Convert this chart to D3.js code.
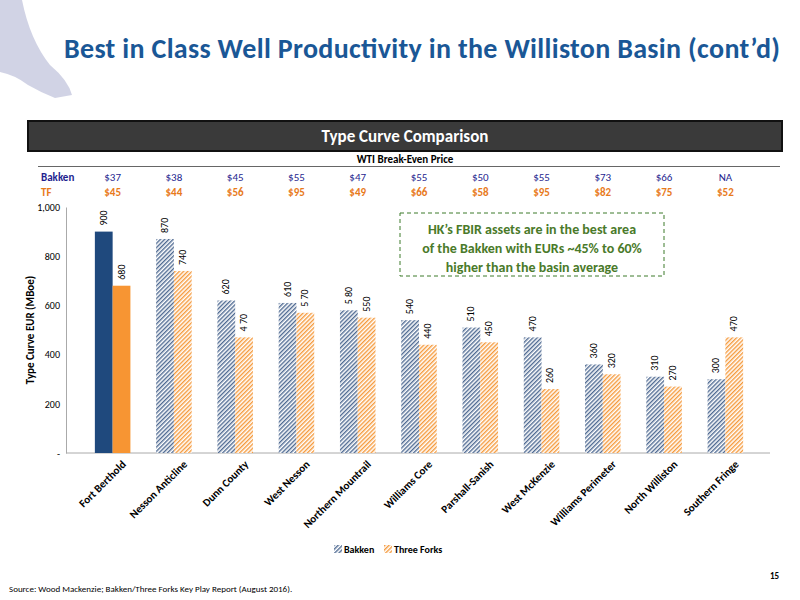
<!DOCTYPE html><html><head><meta charset="utf-8"><script src="https://d3js.org/d3.v7.min.js"></script>
<style>body{margin:0;background:#fff}text{font-family:Calibri,Carlito,"Open Sans",sans-serif}</style></head><body><svg id="c" width="800" height="600"></svg><script>
const categories=["Fort Berthold","Nesson Anticline","Dunn County","West Nesson","Northern Mountrail","Williams Core","Parshall-Sanish","West McKenzie","Williams Perimeter","North Williston","Southern Fringe"];
const bakken=[900,870,620,610,580,540,510,470,360,310,300];
const threeForks=[680,740,470,570,550,440,450,260,320,270,470];
const bakkenLabels=["900","870","620","610","5 80","540","510","470","360","310","300"];
const tfLabels=["680","740","4 70","5 70","550","440","450","260","320","270","470"];
const bakkenPrice=["$37","$38","$45","$55","$47","$55","$50","$55","$73","$66","NA"];
const tfPrice=["$45","$44","$56","$95","$49","$66","$58","$95","$82","$75","$52"];
const yTicks=[0,200,400,600,800,1000];
const svg=d3.select("#c");
const defs=svg.append("defs");
function pat(id,c){const p=defs.append("pattern").attr("id",id).attr("width",3).attr("height",3).attr("patternUnits","userSpaceOnUse").attr("patternTransform","rotate(45)");
p.append("rect").attr("width",3).attr("height",3).attr("fill","#fff");p.append("rect").attr("width",1.4).attr("height",3).attr("fill",c);}
pat("hb","#4f6a92");pat("ho","#f59a3c");
svg.append("path").attr("d","M0,0 L22,0 Q30,40 50,65 Q68,80 72,95 L55,98 Q40,92 28,85 Q15,75 0,72Z").attr("fill","#c9cbe0").attr("opacity",0.85);
svg.append("text").attr("x",64).attr("y",58).attr("font-size",28).attr("font-weight","bold").attr("fill","#1a5796").attr("textLength",716).text("Best in Class Well Productivity in the Williston Basin (cont’d)");
svg.append("rect").attr("x",28).attr("y",121).attr("width",754).attr("height",30).attr("fill","#3a3a3a").attr("stroke","#111").attr("stroke-width",2);
svg.append("text").attr("x",405).attr("y",142).attr("text-anchor","middle").attr("fill","#fff").attr("font-size",17).attr("font-weight","bold").text("Type Curve Comparison");
svg.append("text").attr("x",405).attr("y",163).attr("text-anchor","middle").attr("font-size",11).attr("font-weight","bold").text("WTI Break-Even Price");
svg.append("line").attr("x1",38).attr("x2",780).attr("y1",166.5).attr("y2",166.5).attr("stroke","#666");
const m={l:66,t:207,b:453};
const x=d3.scaleBand().domain(categories).range([82,756]).paddingInner(0.42).paddingOuter(0.21);
const y=d3.scaleLinear().domain([0,1000]).range([m.b,m.t]);
svg.append("text").attr("x",41).attr("y",181).attr("font-size",11).attr("font-weight","bold").attr("fill","#1f1f8f").text("Bakken");
svg.append("text").attr("x",41).attr("y",196).attr("font-size",11).attr("font-weight","bold").attr("fill","#e87a1c").text("TF");
categories.forEach((c,i)=>{const cx=x(c)+x.bandwidth()/2;
svg.append("text").attr("x",cx).attr("y",181).attr("text-anchor","middle").attr("font-size",11).attr("fill","#1f1f8f").text(bakkenPrice[i]);
svg.append("text").attr("x",cx).attr("y",196).attr("text-anchor","middle").attr("font-size",11).attr("font-weight","bold").attr("fill","#e87a1c").text(tfPrice[i]);});
const ax=svg.append("g").attr("transform",`translate(${m.l},0)`).call(d3.axisLeft(y).tickValues(yTicks).tickFormat(d=>d===0?"-":d3.format(",")(d)).tickSize(0).tickPadding(6));
ax.select(".domain").attr("stroke","#aaa");ax.selectAll("text").attr("font-size",10).style("font-family","Calibri,Carlito,sans-serif");
svg.append("line").attr("x1",m.l).attr("x2",770).attr("y1",m.b).attr("y2",m.b).attr("stroke","#aaa");
const bw=x.bandwidth()/2;
categories.forEach((c,i)=>{
 const x0=x(c);
 svg.append("rect").attr("x",x0).attr("y",y(bakken[i])).attr("width",bw).attr("height",m.b-y(bakken[i])).attr("fill",i===0?"#1f497d":"url(#hb)");
 svg.append("rect").attr("x",x0+bw).attr("y",y(threeForks[i])).attr("width",bw).attr("height",m.b-y(threeForks[i])).attr("fill",i===0?"#f79533":"url(#ho)");
 [[x0+bw/2,bakken[i],bakkenLabels[i]],[x0+bw*1.5,threeForks[i],tfLabels[i]]].forEach(([lx,v,t])=>{
  svg.append("text").attr("transform",`translate(${lx+3},${y(v)-6}) rotate(-90)`).attr("font-size",10).attr("text-anchor","start").text(t);});
 svg.append("text").attr("transform",`translate(${x0+x.bandwidth()/2+14},${m.b+12}) rotate(-45)`).attr("text-anchor","end").attr("font-size",11).attr("font-weight","bold").text(c);
});
svg.append("text").attr("transform","translate(34,330) rotate(-90)").attr("text-anchor","middle").attr("font-size",11).attr("font-weight","bold").text("Type Curve EUR (MBoe)");
svg.append("rect").attr("x",400).attr("y",213).attr("width",264).attr("height",63).attr("fill","#fff").attr("stroke","#3d7a2a").attr("stroke-dasharray","4,3");
["HK’s FBIR assets are in the best area","of the Bakken with EURs ~45% to 60%","higher than the basin average"].forEach((t,i)=>svg.append("text").attr("x",532).attr("y",234+i*19).attr("text-anchor","middle").attr("font-size",14).attr("font-weight","bold").attr("fill","#4a7a2a").text(t));
svg.append("rect").attr("x",334).attr("y",545).attr("width",8).attr("height",8).attr("fill","url(#hb)");
svg.append("text").attr("x",344).attr("y",553).attr("font-size",10).attr("font-weight","bold").text("Bakken");
svg.append("rect").attr("x",384).attr("y",545).attr("width",8).attr("height",8).attr("fill","url(#ho)");
svg.append("text").attr("x",394).attr("y",553).attr("font-size",10).attr("font-weight","bold").text("Three Forks");
svg.append("text").attr("x",779).attr("y",579).attr("text-anchor","end").attr("font-size",9).attr("font-weight","bold").text("15");
svg.append("text").attr("x",9).attr("y",592).attr("font-size",9).text("Source:  Wood Mackenzie; Bakken/Three Forks Key Play Report (August 2016).");
</script></body></html>
